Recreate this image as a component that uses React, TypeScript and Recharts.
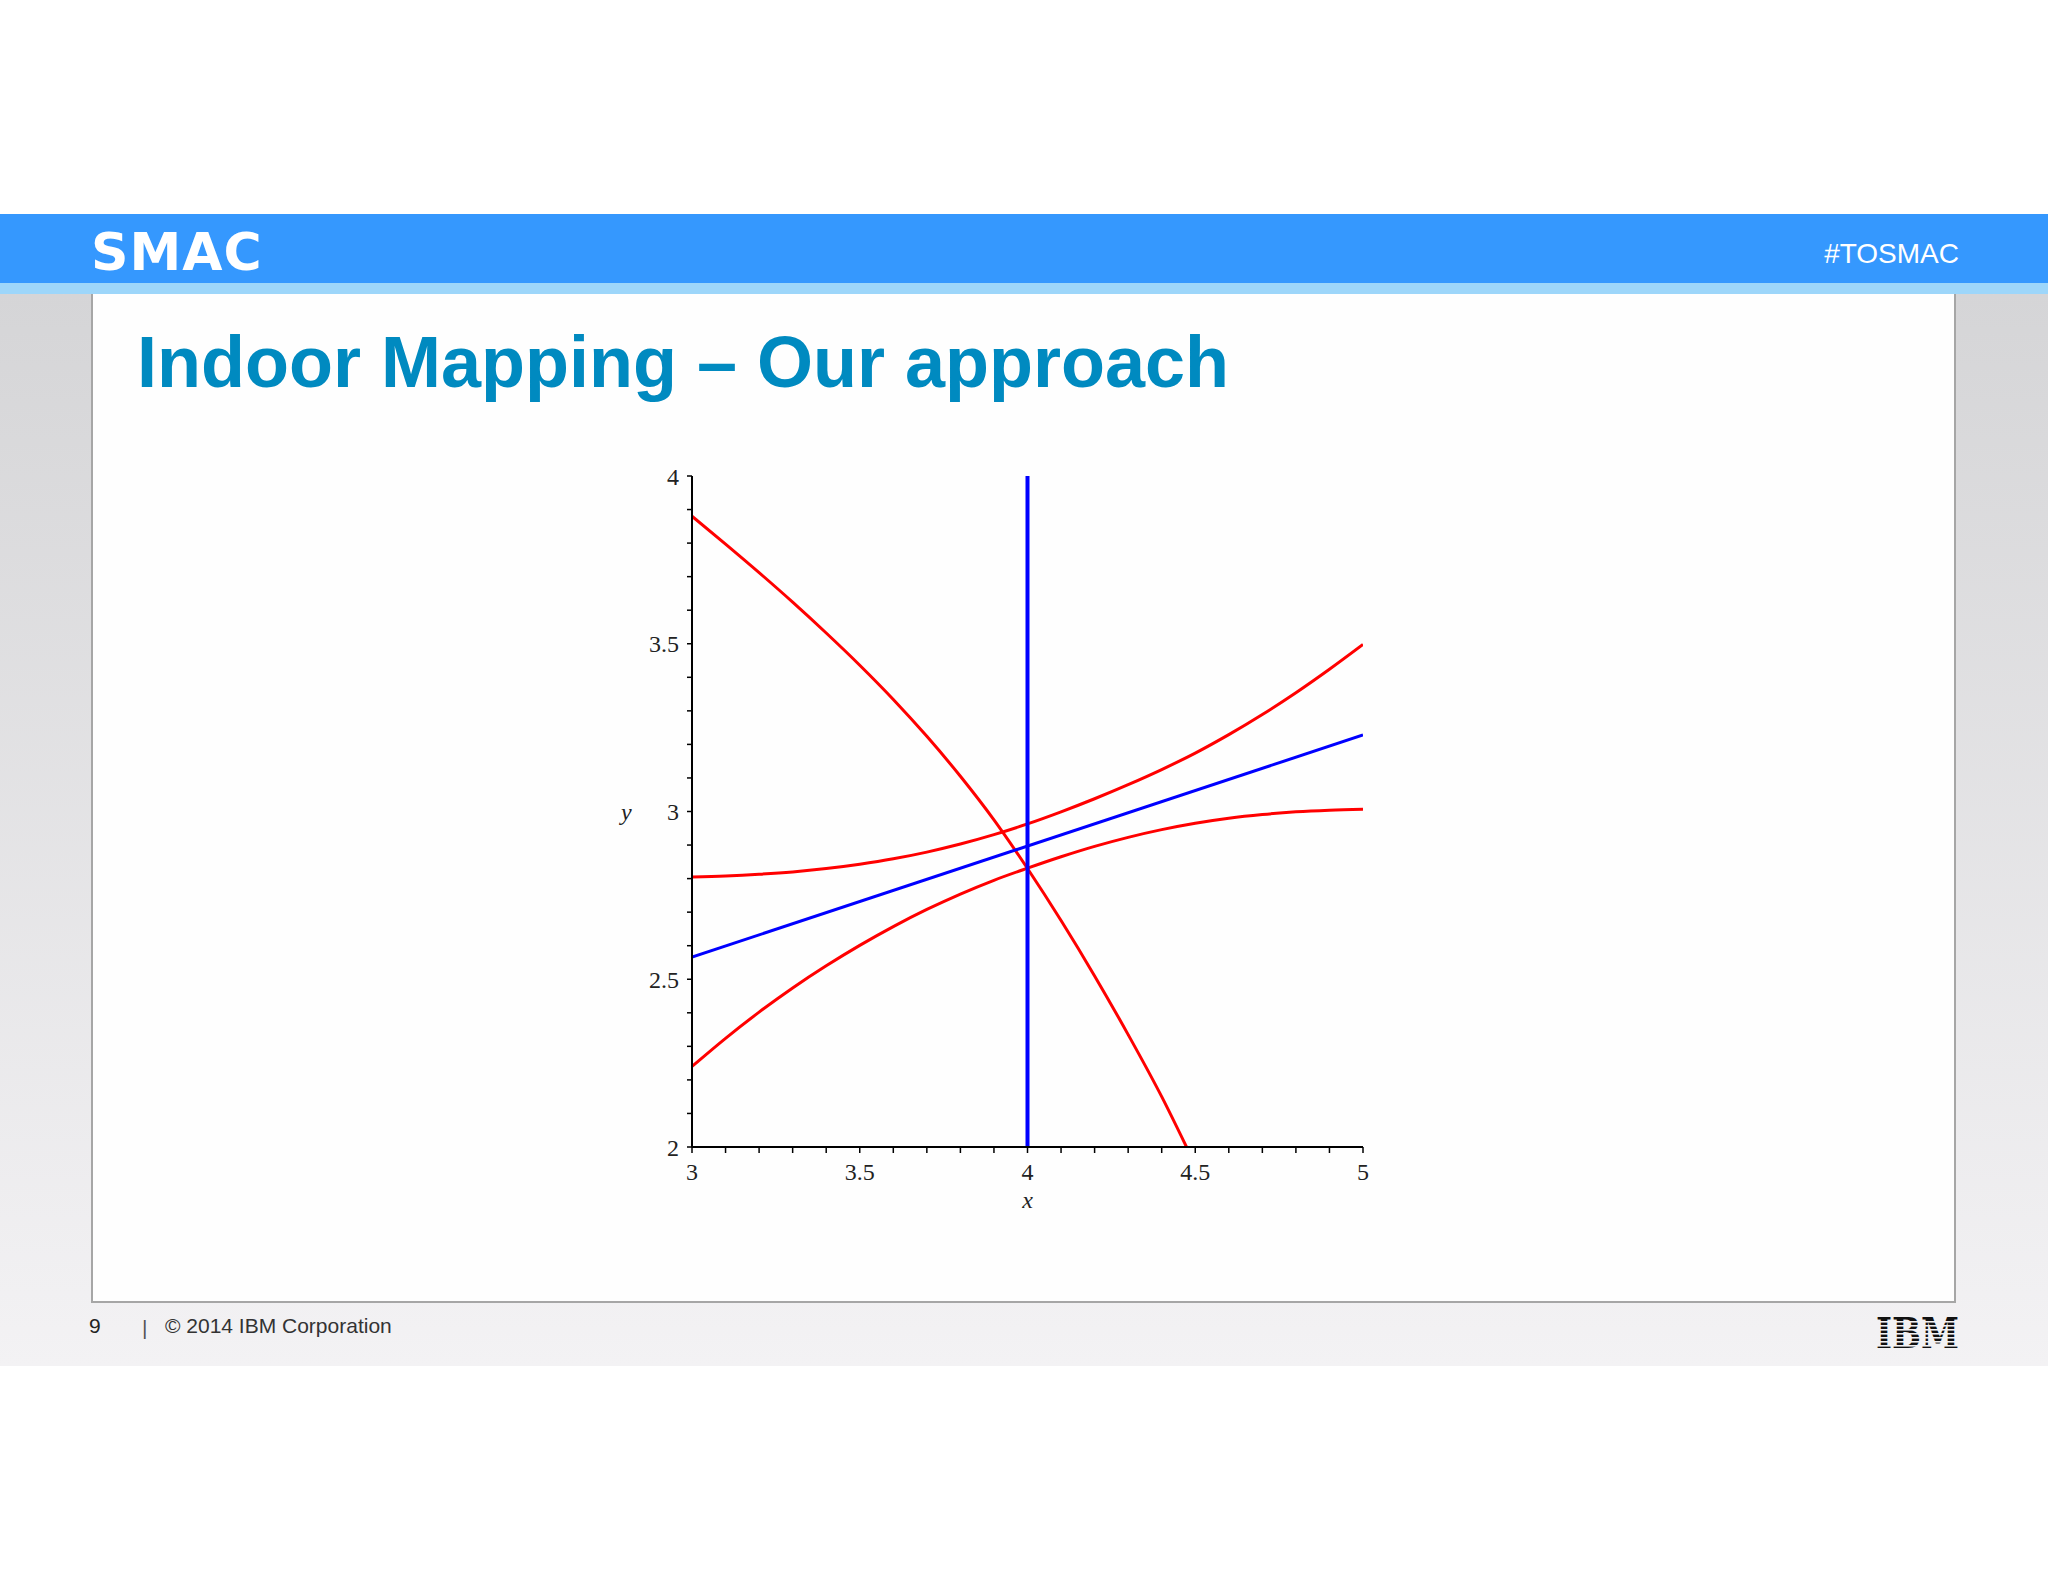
import { Line, LineChart, XAxis, YAxis } from "recharts";

// values
const fallingX = [3.0, 3.1, 3.2, 3.3, 3.4, 3.5, 3.6, 3.7, 3.8, 3.9, 4.0, 4.1, 4.2, 4.3, 4.4, 4.474];
const fallingY = [3.88, 3.797, 3.712, 3.624, 3.532, 3.436, 3.334, 3.224, 3.105, 2.975, 2.83, 2.675, 2.51, 2.335, 2.15, 2.0];

const gridX = [3.0, 3.1, 3.2, 3.3, 3.4, 3.5, 3.6, 3.7, 3.8, 3.9, 4.0, 4.1, 4.2, 4.3, 4.4, 4.5, 4.6, 4.7, 4.8, 4.9, 5.0];
const upperY = [2.805, 2.808, 2.813, 2.82, 2.83, 2.843, 2.859, 2.879, 2.903, 2.931, 2.963, 2.999, 3.038, 3.08, 3.125, 3.174, 3.229, 3.289, 3.354, 3.424, 3.498];
const lowerY = [2.24, 2.324, 2.402, 2.474, 2.54, 2.601, 2.657, 2.708, 2.754, 2.795, 2.831, 2.865, 2.896, 2.923, 2.946, 2.965, 2.98, 2.991, 2.999, 3.004, 3.007];

const blueX = [3, 5];
const blueY = [2.566, 3.228];
const verticalX = [4, 4];
const verticalY = [2, 4];

const xTicks = [3, 3.1, 3.2, 3.3, 3.4, 3.5, 3.6, 3.7, 3.8, 3.9, 4, 4.1, 4.2, 4.3, 4.4, 4.5, 4.6, 4.7, 4.8, 4.9, 5];
const yTicks = [2, 2.1, 2.2, 2.3, 2.4, 2.5, 2.6, 2.7, 2.8, 2.9, 3, 3.1, 3.2, 3.3, 3.4, 3.5, 3.6, 3.7, 3.8, 3.9, 4];
const xMajor = [3, 3.5, 4, 4.5, 5];
const xMajorLabels = ["3", "3.5", "4", "4.5", "5"];
const yMajor = [2, 2.5, 3, 3.5, 4];
const yMajorLabels = ["2", "2.5", "3", "3.5", "4"];

const toPoints = (xs: number[], ys: number[]) => xs.map((x, i) => ({ x, y: ys[i] }));

const majorLabel = (majors: number[], labels: string[]) => (v: number) => {
  const i = majors.findIndex((m) => Math.abs(m - v) < 1e-6);
  return i >= 0 ? labels[i] : "";
};

const serif = "'Liberation Serif', 'DejaVu Serif', serif";
const sans = "'Liberation Sans', Arial, sans-serif";

function Slide() {
  const stripes = [1321, 1325, 1329, 1333, 1337, 1341, 1345];
  return (
    <svg width={2048} height={1582} style={{ position: "absolute", left: 0, top: 0 }}>
      <defs>
        <linearGradient id="sideGrey" x1="0" y1="0" x2="0" y2="1">
          <stop offset="0" stopColor="#d5d5d7" />
          <stop offset="1" stopColor="#f3f2f4" />
        </linearGradient>
      </defs>
      <rect x={0} y={0} width={2048} height={1582} fill="#ffffff" />
      <rect x={0} y={294} width={2048} height={1072} fill="url(#sideGrey)" />
      <rect x={92} y={286} width={1863} height={1016} fill="#fefefe" stroke="#a6a6a6" strokeWidth={2} />
      <rect x={0} y={214} width={2048} height={70} fill="#3598fe" />
      <rect x={0} y={283} width={2048} height={11} fill="#9dd6fa" />
      <text x={91} y={270} fill="#ffffff" fontFamily="'DejaVu Sans', sans-serif" fontWeight="bold" fontSize={52} letterSpacing={1}>
        SMAC
      </text>
      <text x={1959} y={263} fill="#ffffff" fontFamily={sans} fontSize={28} textAnchor="end">
        #TOSMAC
      </text>
      <text x={137} y={387} fill="#008ac0" fontFamily={sans} fontWeight="bold" fontSize={72}>
        Indoor Mapping – Our approach
      </text>
      <text x={89} y={1333} fill="#222" fontFamily={sans} fontSize={21}>9</text>
      <text x={142} y={1335} fill="#555" fontFamily={sans} fontSize={21}>|</text>
      <text x={165} y={1333} fill="#333" fontFamily={sans} fontSize={21}>
        © 2014 IBM Corporation
      </text>
      <text x={1876} y={1348} fill="#111" fontFamily="'DejaVu Serif', serif" fontWeight="bold" fontSize={42} textLength={83} lengthAdjust="spacingAndGlyphs">
        IBM
      </text>
      {stripes.map((y) => (
        <rect key={y} x={1872} y={y} width={92} height={1.6} fill="#f2f1f3" />
      ))}
    </svg>
  );
}

export default function App() {
  return (
    <div style={{ position: "absolute", left: 0, top: 0, width: 2048, height: 1582 }}>
      <Slide />
      <div style={{ position: "absolute", left: 600, top: 450 }}>
        <LineChart width={800} height={780} margin={{ top: 26, right: 37, left: 16, bottom: 22 }}>
          <XAxis
            dataKey="x"
            type="number"
            domain={[3, 5]}
            allowDataOverflow
            ticks={xTicks}
            interval={0}
            tickFormatter={majorLabel(xMajor, xMajorLabels)}
            height={61}
            tickSize={6}
            tickMargin={10}
            axisLine={{ stroke: "#000", strokeWidth: 2 }}
            tickLine={{ stroke: "#000", strokeWidth: 1.5 }}
            tick={{ fill: "#222", fontSize: 24, fontFamily: serif }}
            label={{ value: "x", position: "insideBottom", offset: 0, fill: "#222", fontSize: 24, fontFamily: serif, fontStyle: "italic" }}
          />
          <YAxis
            dataKey="y"
            type="number"
            domain={[2, 4]}
            allowDataOverflow
            ticks={yTicks}
            interval={0}
            tickFormatter={majorLabel(yMajor, yMajorLabels)}
            width={76}
            tickSize={5}
            tickMargin={8}
            axisLine={{ stroke: "#000", strokeWidth: 2 }}
            tickLine={{ stroke: "#000", strokeWidth: 1.5 }}
            tick={{ fill: "#222", fontSize: 24, fontFamily: serif }}
            label={{ value: "y", position: "insideLeft", offset: 5, fill: "#222", fontSize: 24, fontFamily: serif, fontStyle: "italic" }}
          />
          <Line data={toPoints(fallingX, fallingY)} dataKey="y" type="monotone" stroke="#ff0000" strokeWidth={3} dot={false} activeDot={false} isAnimationActive={false} />
          <Line data={toPoints(gridX, upperY)} dataKey="y" type="monotone" stroke="#ff0000" strokeWidth={3} dot={false} activeDot={false} isAnimationActive={false} />
          <Line data={toPoints(gridX, lowerY)} dataKey="y" type="monotone" stroke="#ff0000" strokeWidth={3} dot={false} activeDot={false} isAnimationActive={false} />
          <Line data={toPoints(blueX, blueY)} dataKey="y" type="linear" stroke="#0000ff" strokeWidth={3} dot={false} activeDot={false} isAnimationActive={false} />
          <Line data={toPoints(verticalX, verticalY)} dataKey="y" type="linear" stroke="#0000ff" strokeWidth={4} dot={false} activeDot={false} isAnimationActive={false} />
        </LineChart>
      </div>
    </div>
  );
}
